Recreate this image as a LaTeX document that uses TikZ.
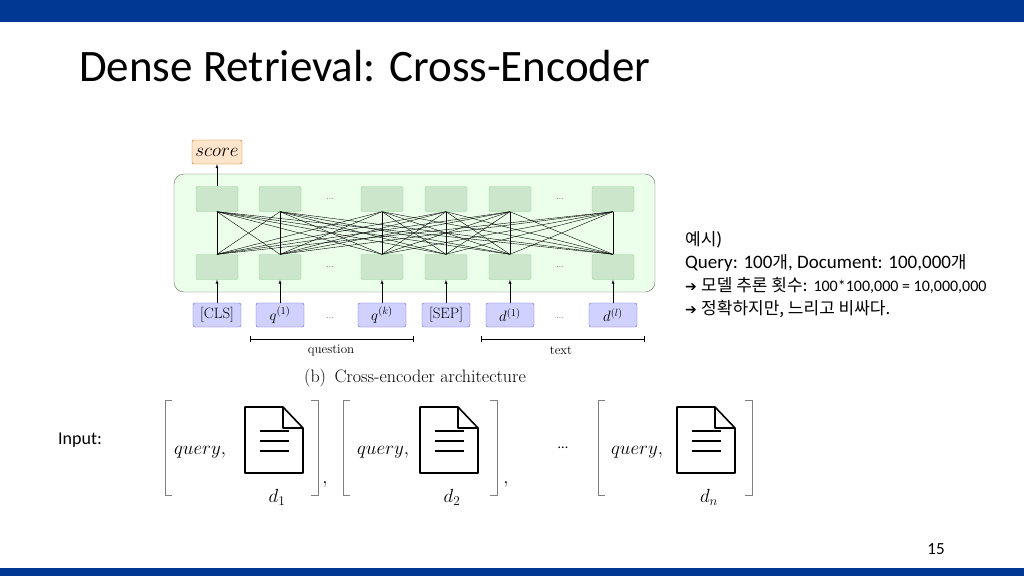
\RequirePackage{fix-cm}
\documentclass[tikz,border=0pt]{standalone}
\usepackage{fontspec}
\setmainfont{Carlito}
\newfontfamily\krf{Noto Sans CJK KR}
\newfontfamily\djvf{DejaVu Sans}
\newfontfamily\lmserif{Latin Modern Roman}
\definecolor{barblue}{RGB}{0,56,147}
\begin{document}
\begin{tikzpicture}[x=1pt,y=-1pt,
 enc/.style={draw=green!40!gray!60, fill=green!35!gray!30, rounded corners=2pt, minimum width=42pt, minimum height=25pt, inner sep=0pt},
 tok/.style={draw=blue!50!gray!80, fill=blue!18, rounded corners=2pt, minimum width=48pt, minimum height=24pt, inner sep=0pt, font=\lmserif\fontsize{15}{15}\selectfont},
 arr/.style={-latex, thin},
 brk/.style={draw=gray, thin},
 doc/.style={line width=1.6pt, line join=round}]
\useasboundingbox (0,0) rectangle (1024,576);
\fill[white] (0,0) rectangle (1024,576);
\fill[barblue] (0,0) rectangle (1024,22);
\fill[barblue] (0,568) rectangle (1024,576);
\node[anchor=west, font=\fontsize{45}{47}\selectfont, inner sep=0pt] (title) at (79,66) {Dense Retrieval: Cross-Encoder};
% encoder box
\node[draw=gray!80!black, fill=green!8, rounded corners=10pt, minimum width=481pt, minimum height=118pt] (encbox) at (414.5,233) {};
\foreach \n/\x in {c/217,q/280,k/382,s/446,d/510,l/613}{
  \node[enc] (u\n) at (\x,199) {};
  \node[enc] (w\n) at (\x,267) {};
}
\foreach \a in {c,q,k,s,d,l}{\foreach \b in {c,q,k,s,d,l}{
  \draw[thin] (w\a.north) -- (u\b.south);}}
\foreach \x/\y in {330/199,560/199,330/267,560/267,330/318,560/318}{\node[font=\lmserif\footnotesize] at (\x,\y) {...};}
\node[tok] (tc) at (217,315) {[CLS]};
\node[tok] (tq) at (280,315) {$q^{(1)}$};
\node[tok] (tk) at (382,315) {$q^{(k)}$};
\node[tok] (ts) at (446,315) {[SEP]};
\node[tok] (td) at (510,315) {$d^{(1)}$};
\node[tok] (tl) at (613,315) {$d^{(l)}$};
\foreach \n in {c,q,k,s,d,l}{\draw[arr] (t\n.north) -- (w\n.south);}
\node[draw=orange!80!black, fill=orange!20, rounded corners=2pt, minimum width=50pt, minimum height=24pt, inner sep=0pt, font=\fontsize{19}{19}\selectfont] (score) at (217,152) {$score$};
\draw[arr] (uc.north) -- (score.south);
\coordinate (qa) at (250,339); \coordinate (qb) at (413,339);
\coordinate (ta) at (481,339); \coordinate (tb) at (644,339);
\draw (qa) -- (qb); \draw (qa)++(0,-3) -- ++(0,6); \draw (qb)++(0,-3) -- ++(0,6);
\draw (ta) -- (tb); \draw (ta)++(0,-3) -- ++(0,6); \draw (tb)++(0,-3) -- ++(0,6);
\node[font=\lmserif\fontsize{13}{13}\selectfont] (lq) at (331,351) {question};
\node[font=\lmserif\fontsize{13}{13}\selectfont] (lt) at (561,351) {text};
\node[font=\lmserif\fontsize{18}{18}\selectfont] (cap) at (415,378) {(b)\, Cross-encoder architecture};
% right text
\node[anchor=north west, align=left, font=\fontsize{19}{23}\selectfont, inner sep=0pt] (ex) at (685,231) {{\krf\fontsize{17}{17}\selectfont 예시})\\ Query: 100{\krf\fontsize{17}{17}\selectfont 개}, Document: 100,000{\krf\fontsize{17}{17}\selectfont 개}\\ {\djvf\bfseries\fontsize{14}{14}\selectfont ➔} {\krf\fontsize{17}{17}\selectfont 모델 추론 횟수}: {\fontsize{16}{16}\selectfont 100*100,000 = 10,000,000}\\ {\djvf\bfseries\fontsize{14}{14}\selectfont ➔} {\krf\fontsize{17}{17}\selectfont 정확하지만, 느리고 비싸다.}};
\node[font=\fontsize{18}{18}\selectfont] (inp) at (80,440) {Input:};
% groups
\foreach \i/\bx/\qx/\dx/\rx/\sub in {1/165/200/245/318/1, 2/343/383/420/497/2, 3/598/637/677/752/n}{
  \draw[brk] (\bx+7,400) -- (\bx,400) -- (\bx,495) -- (\bx+7,495);
  \draw[brk] (\rx-7,400) -- (\rx,400) -- (\rx,495) -- (\rx-7,495);
  \node[font=\fontsize{19}{19}\selectfont] (q\i) at (\qx,452) {$query,$};
  \draw[doc] (\dx,407) -- (\dx+38,407) -- (\dx+58,428) -- (\dx+58,473) -- (\dx,473) -- cycle;
  \draw[doc] (\dx+38,407) -- (\dx+38,428) -- (\dx+58,428);
  \foreach \yy in {431,441,451} \draw[doc] (\dx+15,\yy) -- (\dx+44,\yy);
  \node[font=\fontsize{19}{19}\selectfont] (d\i) at (\dx+32,497) {$d_{\sub}$};
}
\node[font=\fontsize{19}{19}\selectfont] at (325,484) {$,$};
\node[font=\fontsize{19}{19}\selectfont] at (506,484) {$,$};
\node[font=\fontsize{14}{14}\selectfont] (dots) at (563,448) {...};
\node[font=\fontsize{17}{17}\selectfont] (pg) at (936,549) {15};
\end{tikzpicture}
\end{document}
